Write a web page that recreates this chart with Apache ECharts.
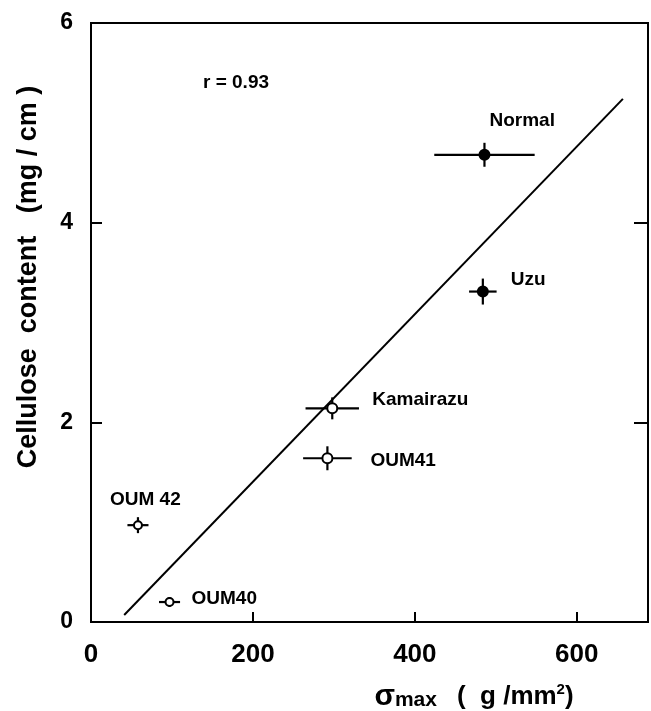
<!DOCTYPE html>
<html>
<head>
<meta charset="utf-8">
<script src="https://cdn.jsdelivr.net/npm/echarts@6/dist/echarts.min.js"></script>
<style>html,body{margin:0;padding:0;background:#fff}#c{width:651px;height:711px}</style>
</head>
<body>
<div id="c"></div>
<script>
// ---- data ----
const names   = ['Normal', 'Uzu', 'Kamairazu', 'OUM41', 'OUM 42', 'OUM40'];
const xVals   = [486, 484, 298, 292, 58, 97];        // sigma max (g/mm2)
const yVals   = [4.68, 3.31, 2.14, 1.64, 0.97, 0.20]; // cellulose content (mg/cm)
const xErr    = [62, 17, 33, 30, 13, 13];
const yErr    = [0.12, 0.13, 0.11, 0.12, 0.08, 0.05];
const filled  = [true, true, false, false, false, false];
const regX    = [41, 657];
const regY    = [0.07, 5.24];
const xTicks  = [0, 200, 400, 600];
const yTicks  = [0, 2, 4, 6];
const rText   = 'r = 0.93';

// label placement (pixels relative to the point)
const labelOffsets = [[5, -34], [28, -12], [40, -9], [43, 2], [-28, -25], [22, -3]];

const chart = echarts.init(document.getElementById('c'), null, {renderer: 'canvas'});
const FONT = 'Liberation Sans, Arial, sans-serif';

const errData = xVals.map((x, i) => [x, yVals[i], xErr[i], yErr[i]]);
const ptData = xVals.map((x, i) => ({
  value: [x, yVals[i]],
  name: names[i],
  symbolSize: i >= 4 ? 8 : 10,
  itemStyle: {color: filled[i] ? '#000' : '#fff', borderColor: '#000', borderWidth: 2, opacity: 1},
  label: {
    show: true, formatter: names[i], position: 'inside',
    offset: labelOffsets[i], align: 'left', verticalAlign: 'middle',
    color: '#000', opacity: 1, fontSize: 19, fontWeight: 'bold', fontFamily: FONT
  }
}));

chart.setOption({
  animation: false,
  backgroundColor: '#fff',
  grid: {left: 91, right: 3, top: 23, bottom: 89, show: true, borderColor: '#000', borderWidth: 2, backgroundColor: 'transparent'},
  xAxis: {
    type: 'value', min: 0, max: 688, interval: 200,
    axisLine: {show: true, lineStyle: {color: '#000', width: 2}},
    axisTick: {show: true, inside: true, length: 10, lineStyle: {color: '#000', width: 2}},
    splitLine: {show: false},
    axisLabel: {
      margin: 20, color: '#000', fontSize: 26, fontWeight: 'bold', fontFamily: FONT,
      showMaxLabel: false,
      formatter: v => xTicks.indexOf(v) >= 0 ? String(v) : ''
    }
  },
  yAxis: [{
    type: 'value', min: 0, max: 6, interval: 2,
    axisLine: {show: true, lineStyle: {color: '#000', width: 2}},
    axisTick: {show: true, inside: true, length: 11, lineStyle: {color: '#000', width: 2}},
    splitLine: {show: false},
    axisLabel: {
      margin: 18, color: '#000', fontSize: 23, fontWeight: 'bold', fontFamily: FONT,
      formatter: v => yTicks.indexOf(v) >= 0 ? String(v) : ''
    }
  }, {
    type: 'value', min: 0, max: 6, interval: 2, position: 'right',
    axisLine: {show: true, lineStyle: {color: '#000', width: 2}},
    axisTick: {show: true, inside: true, length: 14, lineStyle: {color: '#000', width: 2}},
    axisLabel: {show: false}, splitLine: {show: false}
  }],
  series: [
    {
      type: 'line', data: regX.map((x, i) => [x, regY[i]]), showSymbol: false, symbol: 'none',
      lineStyle: {color: '#000', width: 2}, z: 2, silent: true
    },
    {
      type: 'custom', data: errData, z: 3, silent: true,
      renderItem: (params, api) => {
        const x = api.value(0), y = api.value(1), xe = api.value(2), ye = api.value(3);
        const l = api.coord([x - xe, y]), r = api.coord([x + xe, y]);
        const b = api.coord([x, y - ye]), t = api.coord([x, y + ye]);
        const st = {stroke: '#000', lineWidth: 2.2};
        return {type: 'group', children: [
          {type: 'line', shape: {x1: l[0], y1: l[1], x2: r[0], y2: r[1]}, style: st},
          {type: 'line', shape: {x1: b[0], y1: b[1], x2: t[0], y2: t[1]}, style: st}
        ]};
      }
    },
    {
      type: 'scatter', data: ptData, symbol: 'circle', z: 4, silent: true,
      itemStyle: {opacity: 1}
    }
  ],
  graphic: [
    {type: 'text', left: 203, top: 73, style: {text: rText, fontSize: 19, fontWeight: 'bold', fontFamily: FONT, fill: '#000'}},
    {type: 'text', x: 29, y: 277, rotation: Math.PI / 2,
     style: {text: 'Cellulose  content   (mg / cm )', fontSize: 27, fontWeight: 'bold', fontFamily: FONT, fill: '#000', align: 'center', verticalAlign: 'middle'}},
    {type: 'text', x: 474, y: 697,
     style: {
       text: '{s|σ}{m|max}      {n|(  g /mm}{sup|2}{n|)}', align: 'center', verticalAlign: 'middle',
       rich: {
         s: {fontSize: 30, fontWeight: 'bold', fontFamily: FONT, fill: '#000'},
         m: {fontSize: 21, fontWeight: 'bold', fontFamily: FONT, fill: '#000', padding: [6, 0, 0, 0]},
         n: {fontSize: 26, fontWeight: 'bold', fontFamily: FONT, fill: '#000'},
         sup: {fontSize: 15, fontWeight: 'bold', fontFamily: FONT, fill: '#000', padding: [0, 0, 14, 0]}
       }
     }}
  ]
});
</script>
</body>
</html>
